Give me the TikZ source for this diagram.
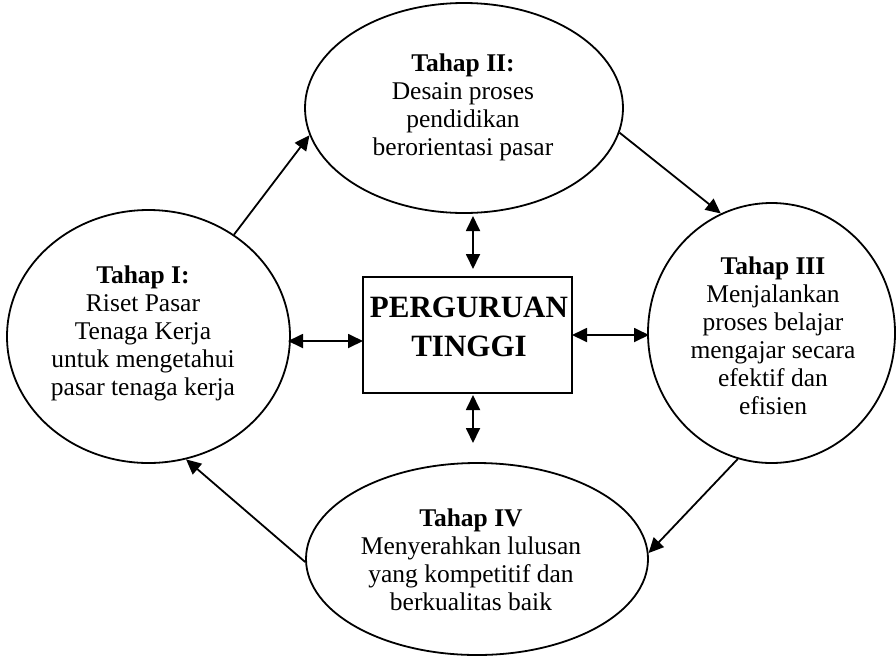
\documentclass[tikz,border=0pt]{standalone}
\usepackage{fontspec}
\setmainfont{Liberation Serif}
\usetikzlibrary{shapes.geometric,arrows.meta}

\tikzset{
  stage/.style={ellipse, draw, line width=1.8pt, inner sep=0pt},
  stagetext/.style={align=center, inner sep=0pt, font=\fontsize{25.5}{28}\selectfont},
  hub/.style={rectangle, draw, line width=1.8pt, inner sep=0pt,
    minimum width=209pt, minimum height=116pt},
  hubtext/.style={align=center, inner sep=0pt, font=\fontsize{31}{39}\selectfont\bfseries},
  flow/.style={line width=1.8pt, -{Triangle[length=15pt,width=14pt]}},
  link/.style={line width=1.8pt, {Triangle[length=15pt,width=14pt]}-{Triangle[length=15pt,width=14pt]}}
}

\begin{document}
\begin{tikzpicture}[x=1pt,y=-1pt]
  \useasboundingbox (0,0) rectangle (896,662);

  % the four stages
  \node[stage, minimum width=318pt, minimum height=210pt] (T) at (464,108) {};
  \node[stage, minimum width=283pt, minimum height=253pt] (L) at (148.5,336.5) {};
  \node[stage, minimum width=247pt, minimum height=260pt] (R) at (771.5,333) {};
  \node[stage, minimum width=342pt, minimum height=192pt] (B) at (477,559) {};

  \node[stagetext] (Tt) at (463,107) {\textbf{Tahap II:}\\Desain proses\\pendidikan\\berorientasi pasar};
  \node[stagetext] (Lt) at (143,333) {\textbf{Tahap I:}\\Riset Pasar\\Tenaga Kerja\\untuk mengetahui\\pasar tenaga kerja};
  \node[stagetext] (Rt) at (773,336) {\textbf{Tahap III}\\Menjalankan\\proses belajar\\mengajar secara\\efektif dan\\efisien};
  \node[stagetext] (Bt) at (471,560) {\textbf{Tahap IV}\\Menyerahkan lulusan\\yang kompetitif dan\\berkualitas baik};

  % the institution in the middle
  \node[hub] (P) at (467.5,335) {};
  \node[hubtext] (Pt) at (469,327) {PERGURUAN\\TINGGI};

  % cycle between stages
  \draw[flow] (L.50) -- (T.190);
  \draw[flow] (T.351) -- (R.113);
  \draw[flow] (R.255) -- (B.2);
  \draw[flow] (B.181) -- (L.287);

  % two-way links with the institution
  \coordinate (u1) at (473,216);
  \coordinate (u2) at (473,269);
  \coordinate (d1) at (473,395);
  \coordinate (d2) at (473,443);
  \coordinate (l1) at (288,341);
  \coordinate (l2) at (363,341);
  \coordinate (r1) at (572,335);
  \coordinate (r2) at (649,335);
  \draw[link] (u1) -- (u2);
  \draw[link] (d1) -- (d2);
  \draw[link] (l1) -- (l2);
  \draw[link] (r1) -- (r2);
\end{tikzpicture}
\end{document}
